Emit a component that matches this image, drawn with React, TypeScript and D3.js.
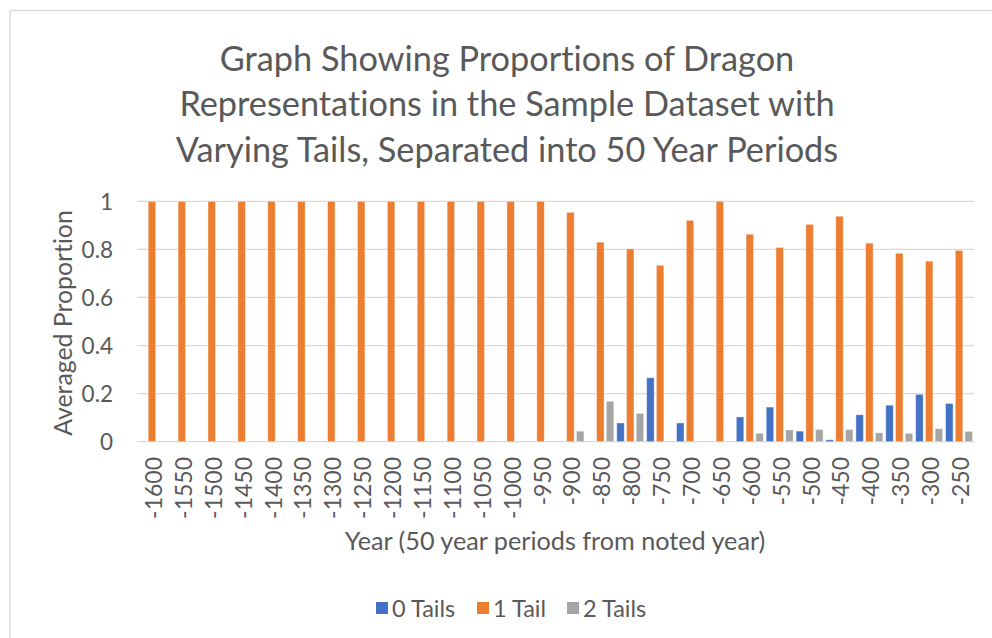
import React from "react";
import * as d3 from "d3";

const categories = ["-1600","-1550","-1500","-1450","-1400","-1350","-1300","-1250","-1200","-1150","-1100","-1050","-1000","-950","-900","-850","-800","-750","-700","-650","-600","-550","-500","-450","-400","-350","-300","-250"];
const seriesNames = ["0 Tails", "1 Tail", "2 Tails"];
const zeroTails = [0,0,0,0,0,0,0,0,0,0,0,0,0,0,0,0,0.078,0.266,0.078,0,0.103,0.144,0.044,0.008,0.112,0.152,0.197,0.159];
const oneTail = [1,1,1,1,1,1,1,1,1,1,1,1,1,1,0.954,0.830,0.802,0.734,0.921,1,0.863,0.808,0.904,0.938,0.826,0.784,0.751,0.796];
const twoTails = [0,0,0,0,0,0,0,0,0,0,0,0,0,0,0.044,0.168,0.118,0,0,0,0.035,0.049,0.051,0.051,0.037,0.035,0.054,0.043];
const yTicks = [0, 0.2, 0.4, 0.6, 0.8, 1];
const titleLines = ["Graph Showing Proportions of Dragon", "Representations in the Sample Dataset with", "Varying Tails, Separated into 50 Year Periods"];
const colors = ["#4472C4", "#ED7D31", "#A5A5A5"];

const W = 992, H = 638;
const FONT = "Lato, 'Open Sans', sans-serif";
const TEXT = "#595959";

export default function App() {
  const plotL = 137, plotR = 974, plotT = 201.3, plotB = 441.7;
  const x0 = d3.scaleBand<string>().domain(categories).range([plotL, plotR]).paddingInner(0).paddingOuter(0);
  const x1 = d3.scaleBand<string>().domain(seriesNames).range([0, x0.bandwidth()]).paddingInner(0.23).paddingOuter(0.15);
  const y = d3.scaleLinear().domain([0, 1]).range([plotB, plotT]);
  const data = [zeroTails, oneTail, twoTails];

  return (
    <svg width={W} height={H} style={{ position: "absolute", left: 0, top: 0, background: "#fff", fontVariantLigatures: "none" }} fontFamily={FONT}>
      <rect x={10} y={10.5} width={W} height={H} fill="#fff" stroke="#d9d9d9" strokeWidth={1.3} />
      {titleLines.map((t, i) => (
        <text key={i} x={507} y={57 + i * 45.5} textAnchor="middle" dominantBaseline="central" fontSize={34.3} fill={TEXT}>{t}</text>
      ))}
      {yTicks.map((t) => (
        <g key={t}>
          <line x1={plotL} x2={plotR} y1={y(t)} y2={y(t)} stroke="#d9d9d9" strokeWidth={1.3} />
          <text x={113} y={y(t)} textAnchor="end" dominantBaseline="central" fontSize={22.5} fill={TEXT}>{d3.format("")(t)}</text>
        </g>
      ))}
      {data.map((vals, si) => (
        <g key={si}>
          {vals.map((v, ci) => v > 0 ? (
            <rect key={ci}
              x={(x0(categories[ci]) as number) + (x1(seriesNames[si]) as number)}
              y={y(v)} width={x1.bandwidth()} height={y(0) - y(v)}
              fill={colors[si]} stroke="#fff" strokeOpacity={0.5} strokeWidth={0.8} />
          ) : null)}
        </g>
      ))}
      {categories.map((c) => {
        const cx = (x0(c) as number) + x0.bandwidth() / 2;
        return (
          <text key={c} transform={`translate(${cx + 1},457) rotate(-90)`} textAnchor="end" dominantBaseline="central" fontSize={23} fill={TEXT}>{c}</text>
        );
      })}
      <text transform="translate(62,323) rotate(-90)" textAnchor="middle" dominantBaseline="central" fontSize={24.8} fill={TEXT}>Averaged Proportion</text>
      <text x={555} y={540} textAnchor="middle" dominantBaseline="central" fontSize={25.2} fill={TEXT}>Year (50 year periods from noted year)</text>
      {seriesNames.map((s, i) => {
        const lx = [376, 477, 567][i];
        return (
          <g key={s}>
            <rect x={lx} y={602} width={12} height={12} fill={colors[i]} />
            <text x={lx + 16} y={608} dominantBaseline="central" fontSize={23.5} fill={TEXT}>{s}</text>
          </g>
        );
      })}
    </svg>
  );
}
